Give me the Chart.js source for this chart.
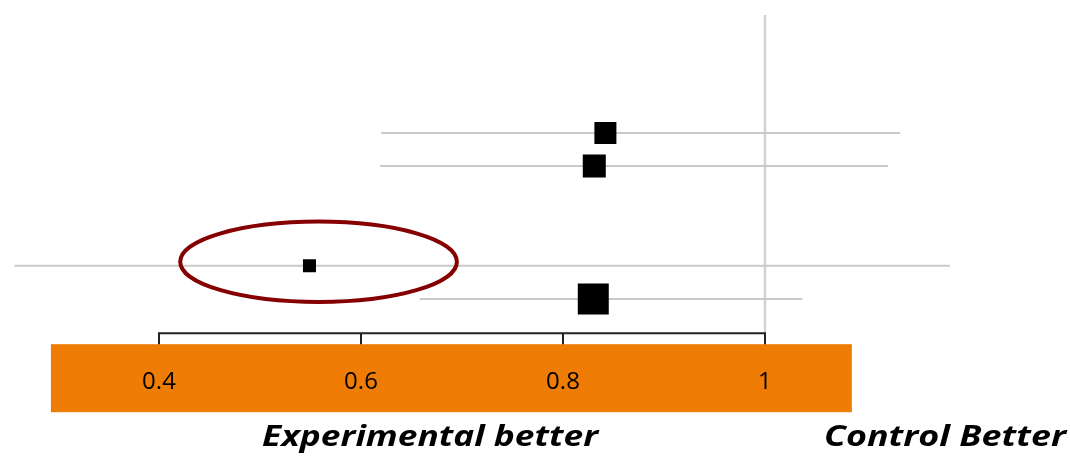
<!DOCTYPE html>
<html>
<head>
<meta charset="utf-8">
<script src="https://cdn.jsdelivr.net/npm/chart.js@4.4.0/dist/chart.umd.min.js"></script>
<style>
  html, body { margin: 0; padding: 0; background: #ffffff; }
  #wrap { width: 1070px; height: 456px; position: relative; }
</style>
</head>
<body>
<div id="wrap"><canvas id="forest" width="1070" height="456"></canvas></div>
<script>
// Studier (rad från toppen), punktskattning och konfidensintervall
const rows = [4, 5, 8, 9];
const estimates = [0.842, 0.831, 0.549, 0.830];
const lower = [0.620, 0.619, 0.257, 0.658];
const upper = [1.134, 1.122, 1.183, 1.037];
const weights = [22.6, 24.7, 7.9, 44.8]; // vikt i procent

// Axel
const xTicks = [0.4, 0.6, 0.8, 1];
const tickLabels = ['0.4', '0.6', '0.8', '1'];
const nullLine = 1;

const sideLabels = ['Experimental better', 'Control Better'];

// Markerad studie (ellips runt studie 3)
const highlight = { x: 0.558, y: 7.88, rx: 0.137, ry: 1.21 };

// Hjälpfunktion: kvadratens sida efter vikt
function radiusForWeight(w) {
    const side = Math.sqrt(w) * 4.63;
    return side / Math.SQRT2;
}

// Skriv text utsträckt till en given bredd
function fillStretched(ctx, text, left, baseline, width) {
    const w = ctx.measureText(text).width;
    ctx.save();
    ctx.translate(left, baseline);
    ctx.scale(width / w, 1);
    ctx.fillText(text, 0, 0);
    ctx.restore();
}

// Egen plugin för orange band, axellinje, ellips och texter
const forestDecor = {
    id: 'forestDecor',
    beforeDraw(chart) {
        const ctx = chart.ctx;
        const xs = chart.scales.x;
        const bottom = chart.chartArea.bottom;
        ctx.save();
        ctx.fillStyle = '#ef7c05';
        const left = xs.getPixelForValue(0.293);
        const right = xs.getPixelForValue(1.086);
        ctx.fillRect(left, bottom + 11, right - left, 68);
        ctx.restore();
    },
    afterDatasetsDraw(chart) {
        const ctx = chart.ctx;
        const xs = chart.scales.x;
        const ys = chart.scales.y;
        const bottom = chart.chartArea.bottom;

        // Axellinje bara mellan första och sista tick
        ctx.save();
        ctx.strokeStyle = '#222222';
        ctx.lineWidth = 2;
        ctx.beginPath();
        ctx.moveTo(xs.getPixelForValue(xTicks[0]) - 1, bottom);
        ctx.lineTo(xs.getPixelForValue(xTicks[xTicks.length - 1]) + 1, bottom);
        ctx.stroke();

        // Ellips
        const cx = xs.getPixelForValue(highlight.x);
        const cy = ys.getPixelForValue(highlight.y);
        const rx = Math.abs(xs.getPixelForValue(highlight.x + highlight.rx) - cx);
        const ry = Math.abs(ys.getPixelForValue(highlight.y + highlight.ry) - cy);
        ctx.strokeStyle = '#850000';
        ctx.lineWidth = 4;
        ctx.beginPath();
        ctx.ellipse(cx, cy, rx, ry, 0, 0, Math.PI * 2);
        ctx.stroke();

        // Texter under axeln
        ctx.fillStyle = '#000000';
        ctx.font = 'italic bold 28px "Open Sans"';
        ctx.textAlign = 'left';
        ctx.textBaseline = 'alphabetic';
        fillStretched(ctx, sideLabels[0], 262, 446, 336);
        fillStretched(ctx, sideLabels[1], 824, 446, 242);
        ctx.restore();
    }
};

// Bygg dataset
const ciSets = rows.map((r, i) => ({
    type: 'line',
    data: [{ x: lower[i], y: r }, { x: upper[i], y: r }],
    borderColor: '#c9c9c9',
    borderWidth: 2,
    pointRadius: 0,
    order: 2
}));

const nullSet = {
    type: 'line',
    data: [{ x: nullLine, y: 0.45 }, { x: nullLine, y: 10.1 }],
    borderColor: '#d2d2d2',
    borderWidth: 2.5,
    pointRadius: 0,
    order: 3
};

const pointSet = {
    type: 'scatter',
    data: rows.map((r, i) => ({ x: estimates[i], y: r })),
    pointStyle: 'rect',
    pointRadius: weights.map(radiusForWeight),
    pointHoverRadius: weights.map(radiusForWeight),
    backgroundColor: '#000000',
    borderColor: '#000000',
    borderWidth: 0,
    order: 1
};

const ctx = document.getElementById('forest').getContext('2d');
new Chart(ctx, {
    type: 'scatter',
    data: { datasets: [nullSet, ...ciSets, pointSet] },
    options: {
        responsive: false,
        animation: false,
        layout: { autoPadding: false, padding: { left: 0, right: 0, top: 0, bottom: 35 } },
        plugins: {
            legend: { display: false },
            tooltip: { enabled: false }
        },
        scales: {
            x: {
                type: 'linear',
                min: 0.2426,
                max: 1.302,
                afterBuildTicks: (scale) => {
                    scale.ticks = xTicks.map(v => ({ value: v }));
                },
                ticks: {
                    autoSkip: false,
                    maxRotation: 0,
                    padding: 24,
                    color: '#000000',
                    font: { family: '"Open Sans"', size: 24 },
                    callback: (value) => tickLabels[xTicks.indexOf(value)]
                },
                grid: {
                    drawOnChartArea: false,
                    drawTicks: true,
                    tickLength: 11,
                    color: '#222222',
                    lineWidth: 2
                },
                border: { display: false }
            },
            y: {
                type: 'linear',
                display: false,
                reverse: true,
                min: 0,
                max: 10.03
            }
        }
    },
    plugins: [forestDecor]
});
</script>
</body>
</html>
